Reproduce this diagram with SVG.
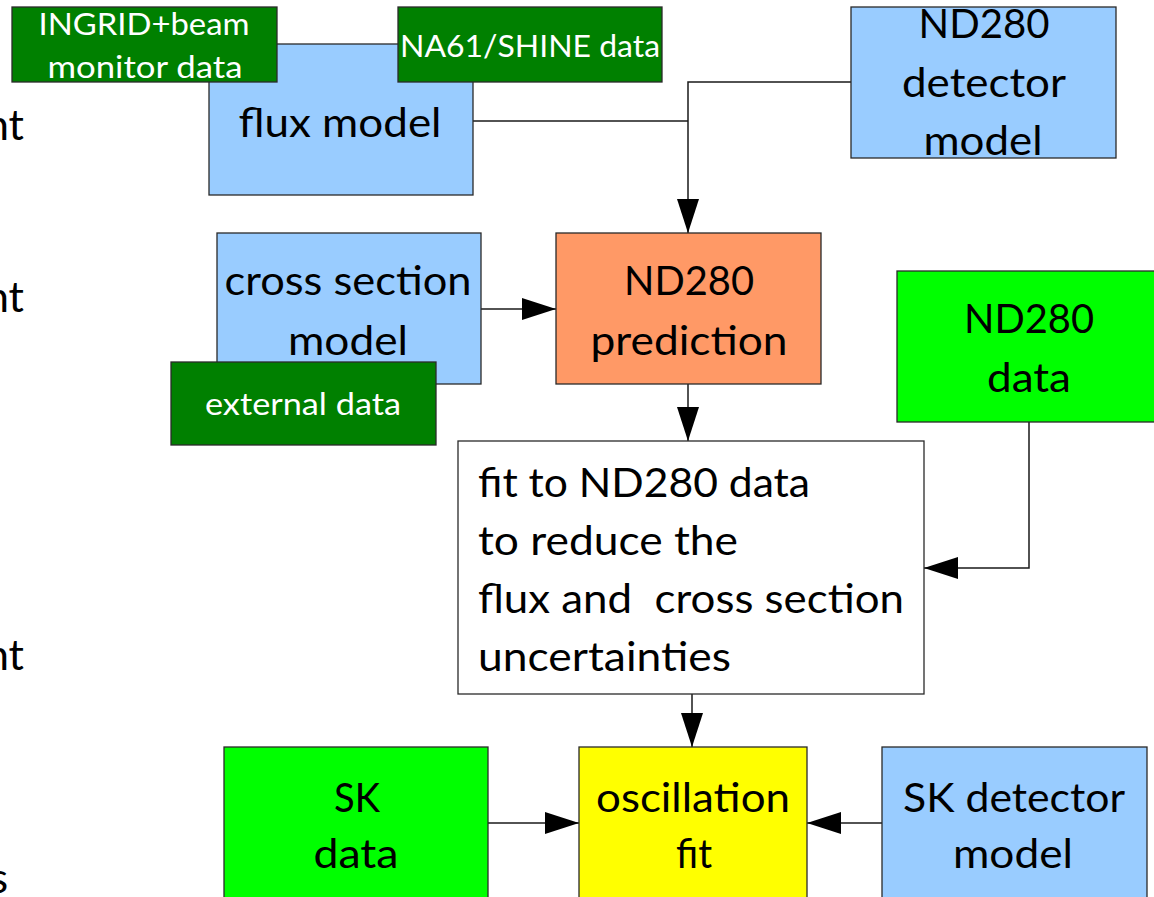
<svg xmlns="http://www.w3.org/2000/svg" width="1154" height="897" viewBox="0 0 1154 897">
<style>
text{font-family:Lato,"Open Sans","Liberation Sans",sans-serif;fill:#000}
.big{font-size:40px}
.frag{font-size:43px}
.sm{font-size:31px;fill:#fff}
.c{text-anchor:middle}
.box{stroke:#2a2a2a;stroke-width:1.3}
.dg{fill:#008000}
.lb{fill:#99ccff}
.or{fill:#ff9966}
.bg{fill:#00ff00}
.ye{fill:#ffff00}
.wh{fill:#ffffff}
.ln{fill:none;stroke:#1a1a1a;stroke-width:1.5}
</style>
<defs>
<marker id="ah" markerUnits="userSpaceOnUse" markerWidth="34" markerHeight="22" refX="34" refY="11" orient="auto">
<path d="M0,0 L34,11 L0,22 Z" fill="#000"/>
</marker>
</defs>
<rect width="1154" height="897" fill="#fff"/>
<g id="fragments">
<text class="frag" x="24" y="140" text-anchor="end">nt</text>
<text class="frag" x="24" y="312" text-anchor="end">nt</text>
<text class="frag" x="24" y="670" text-anchor="end">nt</text>
<text class="frag" x="8" y="893" text-anchor="end">s</text>
</g>
<g id="connectors">
<path class="ln" d="M473,121 H688"/>
<path class="ln" d="M851,82 H688 V233" marker-end="url(#ah)"/>
<path class="ln" d="M481,309 H556" marker-end="url(#ah)"/>
<path class="ln" d="M688,384 V441" marker-end="url(#ah)"/>
<path class="ln" d="M1029,422 V568 H924" marker-end="url(#ah)"/>
<path class="ln" d="M692,694 V747" marker-end="url(#ah)"/>
<path class="ln" d="M488,823 H579" marker-end="url(#ah)"/>
<path class="ln" d="M882,823 H807" marker-end="url(#ah)"/>
</g>
<g id="flux-model">
<rect class="box lb" x="209" y="44" width="264" height="151"/>
<text class="big c" x="340" y="137" textLength="203" lengthAdjust="spacingAndGlyphs">flux model</text>
</g>
<g id="ingrid-data">
<rect class="box dg" x="12" y="7" width="265" height="75"/>
<text class="sm c" x="144" y="35" textLength="211" lengthAdjust="spacingAndGlyphs">INGRID+beam</text>
<text class="sm c" x="145" y="78" textLength="195" lengthAdjust="spacingAndGlyphs">monitor data</text>
</g>
<g id="na61-data">
<rect class="box dg" x="398" y="7" width="264" height="75"/>
<text class="sm c" x="530" y="57" textLength="260" lengthAdjust="spacingAndGlyphs">NA61/SHINE data</text>
</g>
<g id="nd280-detector-model">
<rect class="box lb" x="851" y="7" width="265" height="151"/>
<text class="big c" x="984" y="38" textLength="131" lengthAdjust="spacingAndGlyphs">ND280</text>
<text class="big c" x="984" y="97" textLength="164" lengthAdjust="spacingAndGlyphs">detector</text>
<text class="big c" x="983" y="155" textLength="119" lengthAdjust="spacingAndGlyphs">model</text>
</g>
<g id="cross-section-model">
<rect class="box lb" x="217" y="233" width="264" height="151"/>
<text class="big c" x="348" y="295" textLength="247" lengthAdjust="spacingAndGlyphs">cross section</text>
<text class="big c" x="348" y="355" textLength="120" lengthAdjust="spacingAndGlyphs">model</text>
</g>
<g id="external-data">
<rect class="box dg" x="171" y="362" width="265" height="83"/>
<text class="sm c" x="303" y="415" textLength="196" lengthAdjust="spacingAndGlyphs">external data</text>
</g>
<g id="nd280-prediction">
<rect class="box or" x="556" y="233" width="265" height="151"/>
<text class="big c" x="689" y="295" textLength="130" lengthAdjust="spacingAndGlyphs">ND280</text>
<text class="big c" x="689" y="355" textLength="197" lengthAdjust="spacingAndGlyphs">prediction</text>
</g>
<g id="nd280-data">
<rect class="box bg" x="897" y="271" width="265" height="151"/>
<text class="big c" x="1029" y="333" textLength="130" lengthAdjust="spacingAndGlyphs">ND280</text>
<text class="big c" x="1029" y="392" textLength="84" lengthAdjust="spacingAndGlyphs">data</text>
</g>
<g id="fit-nd280">
<rect class="box wh" x="458" y="441" width="466" height="253"/>
<text class="big" x="478" y="497" textLength="332" lengthAdjust="spacingAndGlyphs">fit to ND280 data</text>
<text class="big" x="478" y="555" textLength="260" lengthAdjust="spacingAndGlyphs">to reduce the</text>
<text class="big" x="478" y="613" textLength="426" lengthAdjust="spacingAndGlyphs" xml:space="preserve">flux and  cross section</text>
<text class="big" x="478" y="671" textLength="253" lengthAdjust="spacingAndGlyphs">uncertainties</text>
</g>
<g id="sk-data">
<rect class="box bg" x="224" y="747" width="264" height="152"/>
<text class="big c" x="357" y="812" textLength="46" lengthAdjust="spacingAndGlyphs">SK</text>
<text class="big c" x="356" y="868" textLength="85" lengthAdjust="spacingAndGlyphs">data</text>
</g>
<g id="oscillation-fit">
<rect class="box ye" x="579" y="747" width="228" height="152"/>
<text class="big c" x="693" y="812" textLength="194" lengthAdjust="spacingAndGlyphs">oscillation</text>
<text class="big c" x="694" y="868" textLength="36" lengthAdjust="spacingAndGlyphs">fit</text>
</g>
<g id="sk-detector-model">
<rect class="box lb" x="882" y="747" width="265" height="152"/>
<text class="big c" x="1014" y="812" textLength="222" lengthAdjust="spacingAndGlyphs">SK detector</text>
<text class="big c" x="1013" y="868" textLength="120" lengthAdjust="spacingAndGlyphs">model</text>
</g>
</svg>
